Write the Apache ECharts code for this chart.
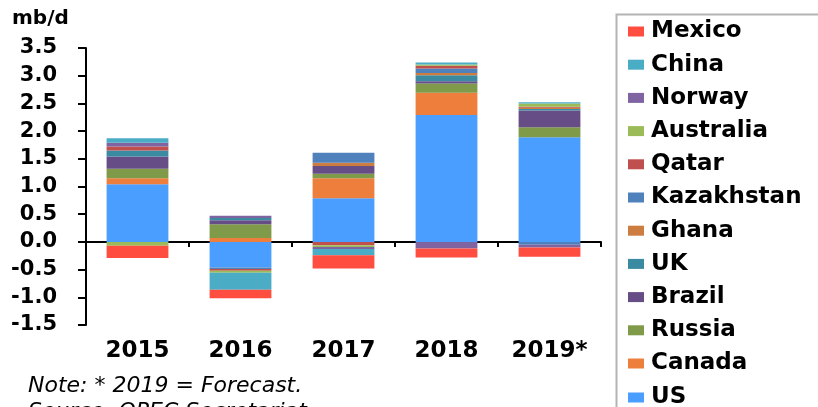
<!DOCTYPE html>
<html>
<head>
<meta charset="utf-8">
<script src="https://cdn.jsdelivr.net/npm/echarts@6/dist/echarts.min.js"></script>
<style>
  html, body { margin: 0; padding: 0; background: #fff; }
  #main { width: 818px; height: 407px; }
</style>
</head>
<body>
<div id="main"></div>
<script>
// years on the x axis
const years = ['2015', '2016', '2017', '2018', '2019*']

// supply growth by country, mb/d
const US         = [1.04, -0.46, 0.79, 2.29, 1.89]
const Canada     = [0.11, 0.07, 0.36, 0.40, 0]
const Russia     = [0.17, 0.25, 0.08, 0.17, 0.18]
const Brazil     = [0.22, 0.07, 0.14, 0.04, 0.30]
const UK         = [0.11, 0.04, 0, 0.11, 0.03]
const Ghana      = [0, 0, 0.06, 0.04, 0.02]
const Kazakhstan = [0, -0.03, 0.18, 0.08, -0.05]
const Qatar      = [0.07, -0.03, -0.06, 0.05, 0.02]
const Australia  = [-0.07, -0.035, -0.03, 0.02, 0.06]
const Norway     = [0.07, 0.04, -0.04, -0.12, -0.05]
const China      = [0.08, -0.31, -0.11, 0.04, 0.02]
const Mexico     = [-0.22, -0.15, -0.24, -0.16, -0.17]

// y axis ticks
const yMin = -1.5
const yMax = 3.5
const yStep = 0.5

// stacking order, bottom to top
const countries = ['US','Canada','Russia','Brazil','UK','Ghana','Kazakhstan','Qatar','Australia','Norway','China','Mexico']
const values = [US, Canada, Russia, Brazil, UK, Ghana, Kazakhstan, Qatar, Australia, Norway, China, Mexico]
const colors = ['#4a9eff','#ee7e3c','#7f9a48','#664d85','#3a8aa2','#cc7d3f','#4f81bd','#c0504d','#9bbb59','#8064a2','#4bacc6','#ff4d40']

const boldFont = 'DejaVu Sans'
const legendText = { fontFamily: boldFont, fontWeight: 'bold', fontSize: 23, color: '#000', padding: [0, 0, 0, 2] }

let chart = echarts.init(document.getElementById('main'))

let series = countries.map((name, i) => {
  return {
    name: name,
    type: 'bar',
    stack: 'total',
    xAxisIndex: 0,
    barWidth: '60%',
    itemStyle: { color: colors[i] },
    data: values[i]
  }
})

// legend runs past the bottom edge, so the last row (US) gets its own legend
let legendNames = countries.slice().reverse()

let option = {
  animation: false,
  title: {
    text: 'mb/d',
    left: 12,
    top: 9,
    padding: 0,
    textStyle: { fontFamily: boldFont, fontWeight: 'bold', fontSize: 20, color: '#000' }
  },
  legend: [
    {
      orient: 'vertical',
      left: 628,
      top: 20,
      padding: 0,
      icon: 'rect',
      itemWidth: 16,
      itemHeight: 10,
      itemGap: 10.2,
      data: legendNames.slice(0, 11),
      textStyle: legendText
    },
    {
      orient: 'vertical',
      left: 628,
      top: 386,
      padding: 0,
      icon: 'rect',
      itemWidth: 16,
      itemHeight: 10,
      data: legendNames.slice(11),
      textStyle: legendText
    }
  ],
  grid: {
    left: 86,
    right: 217,
    top: 48,
    bottom: 82
  },
  xAxis: [
    {
      type: 'category',
      data: years,
      axisLine: { onZero: true, lineStyle: { color: '#000', width: 2 } },
      axisTick: { show: true, length: 5, lineStyle: { color: '#000', width: 2 } },
      axisLabel: { show: false }
    },
    {
      type: 'category',
      position: 'bottom',
      data: years,
      axisLine: { show: false },
      axisTick: { show: false },
      axisLabel: {
        margin: 15,
        fontFamily: boldFont, fontWeight: 'bold', fontSize: 23, color: '#000'
      }
    }
  ],
  yAxis: {
    type: 'value',
    min: yMin,
    max: yMax,
    interval: yStep,
    axisLine: { show: true, lineStyle: { color: '#000', width: 2 } },
    axisTick: { show: true, length: 8, lineStyle: { color: '#000', width: 2 } },
    splitLine: { show: false },
    axisLabel: {
      margin: 29,
      formatter: v => v.toFixed(1),
      fontFamily: boldFont, fontWeight: 'bold', fontSize: 21, color: '#000'
    }
  },
  graphic: [
    {
      type: 'rect',
      left: 614,
      top: 12,
      shape: { width: 260, height: 430 },
      style: { fill: 'none', stroke: '#b4b4b4', lineWidth: 2 },
      silent: true
    },
    {
      type: 'text',
      left: 28,
      top: 375,
      style: { text: 'Note: * 2019 = Forecast.', font: 'oblique 22px "DejaVu Sans"', fill: '#000' }
    },
    {
      type: 'text',
      left: 28,
      top: 401,
      style: { text: 'Source: OPEC Secretariat.', font: 'oblique 22px "DejaVu Sans"', fill: '#000' }
    }
  ],
  series
}
chart.setOption(option)
</script>
</body>
</html>
